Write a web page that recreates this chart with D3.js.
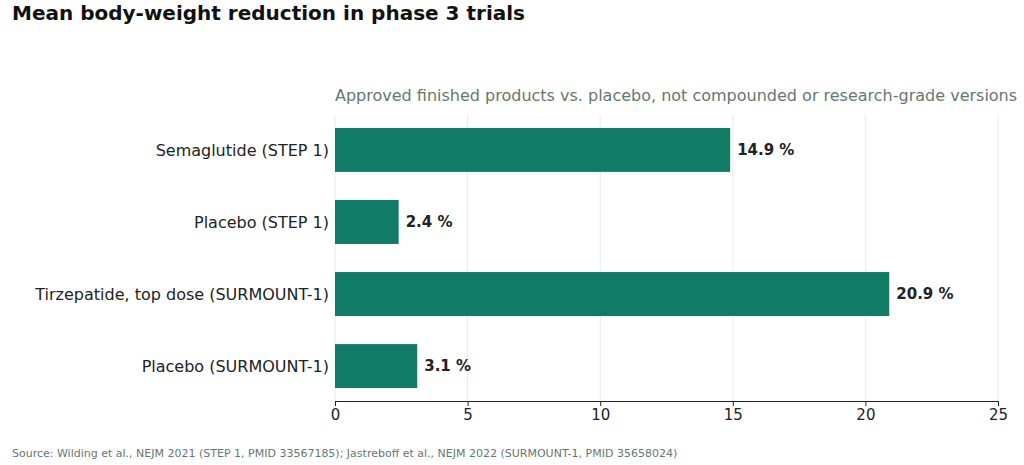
<!DOCTYPE html>
<html><head><meta charset="utf-8">
<script src="https://cdn.jsdelivr.net/npm/d3@7"></script>
<style>body{margin:0;background:#fff;font-family:"DejaVu Sans",sans-serif;overflow:hidden}</style>
</head><body>
<script>
const categories = ["Semaglutide (STEP 1)", "Placebo (STEP 1)", "Tirzepatide, top dose (SURMOUNT-1)", "Placebo (SURMOUNT-1)"];
const values = [14.9, 2.4, 20.9, 3.1];
const xTicks = [0, 5, 10, 15, 20, 25];

const W = 1024, H = 465;
const plotLeft = 335, plotRight = 998, plotTop = 115, plotBottom = 401;

const svg = d3.select("body").append("svg")
    .attr("width", W).attr("height", H)
    .style("font-family", "DejaVu Sans, sans-serif");

const x = d3.scaleLinear().domain([0, 25]).range([plotLeft, plotRight]);
const y = d3.scaleBand().domain(categories).range([plotTop, plotBottom]).paddingInner(0.39).paddingOuter(0.18);

// grid
svg.append("g").selectAll("line").data(xTicks).join("line")
    .attr("x1", d => x(d)).attr("x2", d => x(d))
    .attr("y1", plotTop).attr("y2", plotBottom)
    .attr("stroke", "#e5ecec").attr("stroke-width", 1);

// bars
svg.append("g").selectAll("rect").data(values).join("rect")
    .attr("x", x(0)).attr("y", (d, i) => y(categories[i]))
    .attr("width", d => x(d) - x(0)).attr("height", y.bandwidth())
    .attr("fill", "#107c66");

svg.append("g").selectAll("text").data(values).join("text")
    .attr("x", d => x(d) + 7).attr("y", (d, i) => y(categories[i]) + y.bandwidth() / 2)
    .attr("dy", "0.35em").attr("font-size", 15).attr("font-weight", "bold").attr("fill", "#222")
    .text(d => d.toFixed(1) + " %");

// y labels
svg.append("g").selectAll("text").data(categories).join("text")
    .attr("x", plotLeft - 6).attr("y", d => y(d) + y.bandwidth() / 2)
    .attr("dy", "0.35em").attr("text-anchor", "end").attr("font-size", 16).attr("fill", "#222")
    .text(d => d);

// x axis
const gx = svg.append("g").attr("transform", `translate(0,${plotBottom})`)
    .call(d3.axisBottom(x).tickValues(xTicks).tickSize(5).tickPadding(3));
gx.select(".domain").attr("stroke", "#222");
gx.selectAll(".tick line").attr("stroke", "#222");
gx.selectAll(".tick text").attr("font-size", 15).attr("fill", "#222").attr("font-family", "DejaVu Sans, sans-serif");

svg.append("text").attr("x", 12).attr("y", 20).attr("font-size", 20).attr("font-weight", "bold").attr("fill", "#111")
    .text("Mean body-weight reduction in phase 3 trials");
svg.append("text").attr("x", plotLeft).attr("y", 101).attr("font-size", 16).attr("fill", "#667770")
    .text("Approved finished products vs. placebo, not compounded or research-grade versions");
svg.append("text").attr("x", 12).attr("y", 457).attr("font-size", 11).attr("fill", "#667770")
    .text("Source: Wilding et al., NEJM 2021 (STEP 1, PMID 33567185); Jastreboff et al., NEJM 2022 (SURMOUNT-1, PMID 35658024)");
</script>
</body></html>
